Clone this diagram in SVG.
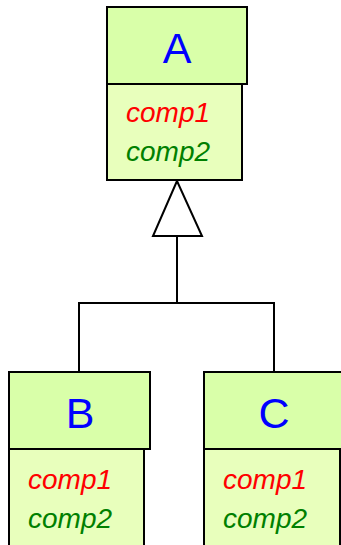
<svg xmlns="http://www.w3.org/2000/svg" width="341" height="545" viewBox="0 0 341 545">
<style>
.hd{fill:#d9ffa9;stroke:#000;stroke-width:2}
.bd{fill:#e8ffbc;stroke:#000;stroke-width:2}
.nm{font-family:"Liberation Sans",Arial,sans-serif;font-size:43px;fill:#0000ff;text-anchor:middle}
.c1{font-family:"Liberation Sans",Arial,sans-serif;font-size:28px;font-style:italic;fill:#ff0000}
.c2{font-family:"Liberation Sans",Arial,sans-serif;font-size:28px;font-style:italic;fill:#008000}
.ln{fill:none;stroke:#000;stroke-width:2}
</style>
<rect width="341" height="545" fill="#fff"/>
<g id="connectors">
<polyline class="ln" points="177,233 177,303"/>
<polyline class="ln" points="79,372 79,303 274,303 274,372"/>
<polygon points="177,181 153,236 202,236" fill="#fff" stroke="#000" stroke-width="2"/>
</g>
<g id="A">
<rect class="bd" x="107" y="84" width="135" height="96"/>
<rect class="hd" x="107" y="7" width="140" height="77"/>
<text class="nm" x="177" y="63">A</text>
<text class="c1" x="126" y="122">comp1</text>
<text class="c2" x="126" y="161">comp2</text>
</g>
<g id="B">
<rect class="bd" x="9" y="449" width="135" height="110"/>
<rect class="hd" x="9" y="372" width="141" height="77"/>
<text class="nm" x="80" y="428">B</text>
<text class="c1" x="28" y="489">comp1</text>
<text class="c2" x="28" y="528">comp2</text>
</g>
<g id="C">
<rect class="bd" x="204" y="449" width="136" height="110"/>
<rect class="hd" x="204" y="372" width="145" height="77"/>
<text class="nm" x="274" y="428">C</text>
<text class="c1" x="223" y="489">comp1</text>
<text class="c2" x="223" y="528">comp2</text>
</g>
</svg>
